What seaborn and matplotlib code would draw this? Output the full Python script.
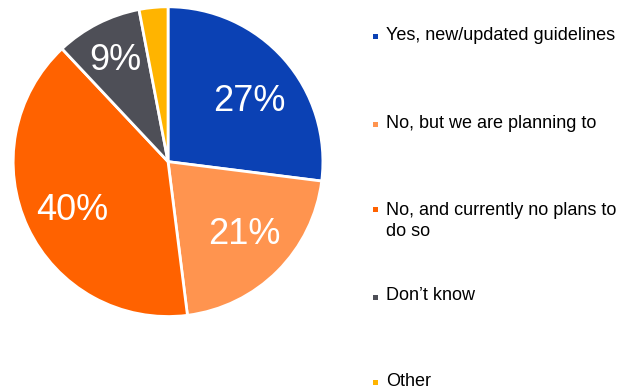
import matplotlib
matplotlib.use("Agg")
import matplotlib.pyplot as plt
from matplotlib.patches import Rectangle
import numpy as np
import seaborn as sns

sns.set_theme(style="white")
plt.rcParams["font.family"] = ["Liberation Sans", "DejaVu Sans"]

# Survey responses (share of respondents, %)
categories = [
    "Yes, new/updated guidelines",
    "No, but we are planning to",
    "No, and currently no plans to\ndo so",
    "Don\u2019t know",
    "Other",
]
shares = [27, 21, 40, 9, 3]
colors = ["#0B41B4", "#FF944F", "#FF6200", "#4E4F57", "#FFB400"]
shown_pct = ["27%", "21%", "40%", "9%", ""]

fig = plt.figure(figsize=(6.27, 3.9), dpi=100)
ax = fig.add_axes([0.021, 0.188, 0.494, 0.795])

wedges, _ = ax.pie(
    shares,
    colors=colors,
    startangle=90,
    counterclock=False,
    wedgeprops=dict(edgecolor="white", linewidth=2),
    radius=1.0,
)
ax.set_xlim(-1, 1)
ax.set_ylim(-1, 1)
ax.set_aspect("equal")

# Percentage labels inside the slices (small nudges in points for best fit)
nudges = [(2, -9), (2, 2), (-1, -4), (-5, 7), (0, 0)]
for w, txt, (dx, dy) in zip(wedges, shown_pct, nudges):
    if not txt:
        continue
    ang = np.deg2rad((w.theta1 + w.theta2) / 2)
    r = 0.68
    ax.annotate(txt, (r * np.cos(ang), r * np.sin(ang)), xytext=(dx * 0.72, dy * 0.72),
                textcoords="offset points", ha="center", va="center",
                color="white", fontsize=26)

# Legend on the right, one square marker per category
legend_y = [35, 123, 208, 296, 381]  # pixel rows from top (first text line)
W, H = 627, 390
for cat, col, y in zip(categories, colors, legend_y):
    fy = 1 - y / H
    fig.add_artist(Rectangle((373 / W, fy - 4 / H), 5 / W, 5 / H,
                             transform=fig.transFigure, facecolor=col,
                             edgecolor="none"))
    if "\n" in cat:
        fig.text(386 / W, fy + 6 / H, cat, ha="left", va="top",
                 fontsize=13, color="#000000", linespacing=1.27)
    else:
        fig.text(386 / W, fy, cat, ha="left", va="center",
                 fontsize=13, color="#000000")

fig.savefig("out.png", dpi=100)
